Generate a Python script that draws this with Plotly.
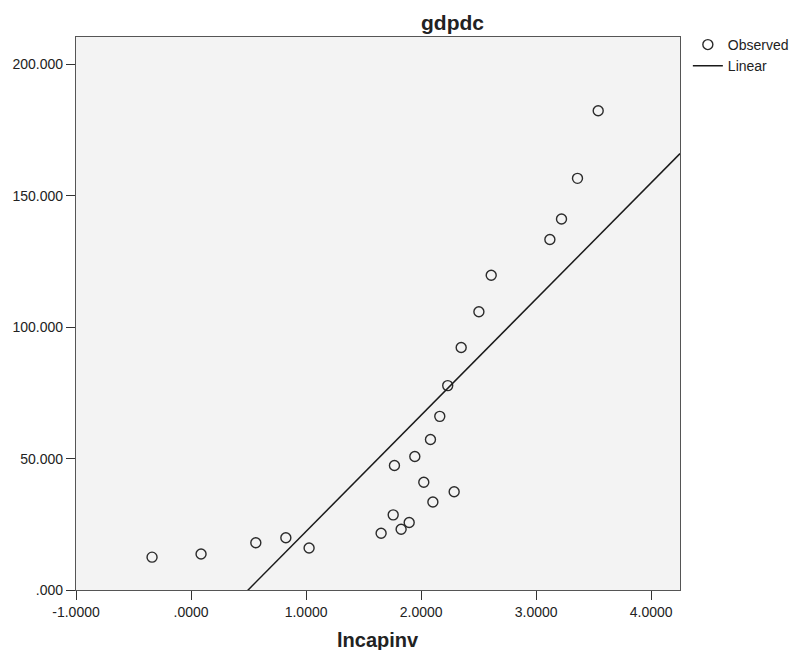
import numpy as np
import plotly.graph_objects as go

lncapinv = [-0.339, 0.087, 0.563, 0.824, 1.026, 1.652, 1.757, 1.826, 1.896,
            1.768, 1.945, 2.023, 2.102, 2.287, 2.081, 2.162, 2.231, 2.348,
            2.502, 2.609, 3.119, 3.220, 3.359, 3.539]
gdpdc = [12.5, 13.7, 18.0, 19.9, 16.0, 21.6, 28.6, 23.1, 25.7,
         47.4, 50.8, 41.0, 33.5, 37.4, 57.3, 66.1, 77.8, 92.3,
         105.9, 119.8, 133.4, 141.2, 156.7, 182.4]

# Linear fit coefficients
fit_intercept = -21.95
fit_slope = 44.25

x_ticks = [-1, 0, 1, 2, 3, 4]
x_ticklabels = ["-1.0000", ".0000", "1.0000", "2.0000", "3.0000", "4.0000"]
y_ticks = [0, 50, 100, 150, 200]
y_ticklabels = [".000", "50.000", "100.000", "150.000", "200.000"]

x_range = [-1.0, 4.25]
y_range = [0, 210.5]

FONT = "Liberation Sans, Arial, sans-serif"

fig = go.Figure()
fig.add_trace(go.Scatter(
    x=lncapinv, y=gdpdc, mode="markers", name="Observed",
    marker=dict(symbol="circle-open", size=10, color="#2b2b2b",
                line=dict(width=1.4, color="#2b2b2b")),
))
line_x = np.array(x_range)
fig.add_trace(go.Scatter(
    x=line_x, y=fit_intercept + fit_slope * line_x, mode="lines", name="Linear",
    line=dict(color="#1a1a1a", width=1.5),
))

axis_common = dict(
    showgrid=False, zeroline=False, showline=True, mirror=True,
    linecolor="#555555", linewidth=1.2, ticks="outside", ticklen=9,
    tickcolor="#333333", tickwidth=1.2, automargin=False,
    tickfont=dict(family=FONT, size=14, color="#222222"),
)

fig.update_layout(
    width=792, height=642,
    margin=dict(l=68, r=120, t=29, b=60, autoexpand=False),
    paper_bgcolor="white", plot_bgcolor="#f3f3f3",
    font=dict(family=FONT, color="#222222"),
    xaxis=dict(range=x_range, tickvals=x_ticks, ticktext=x_ticklabels, **axis_common),
    yaxis=dict(range=y_range, tickvals=y_ticks, ticktext=y_ticklabels, **axis_common),
    showlegend=True,
    legend=dict(x=1.013, y=1.0145, xanchor="left", yanchor="top",
                font=dict(family=FONT, size=14, color="#222222"), itemwidth=30,
                tracegroupgap=0, bgcolor="rgba(0,0,0,0)", borderwidth=0),
    annotations=[
        dict(text="<b>gdpdc</b>", xref="paper", yref="paper", x=0.624, y=1.0,
             xanchor="center", yanchor="middle", yshift=15, showarrow=False,
             font=dict(family=FONT, size=21, color="#222222")),
        dict(text="<b>lncapinv</b>", xref="paper", yref="paper", x=0.5, y=0,
             xanchor="center", yanchor="middle", yshift=-50, showarrow=False,
             font=dict(family=FONT, size=20, color="#222222")),
    ],
)

fig.write_html("out.html")
